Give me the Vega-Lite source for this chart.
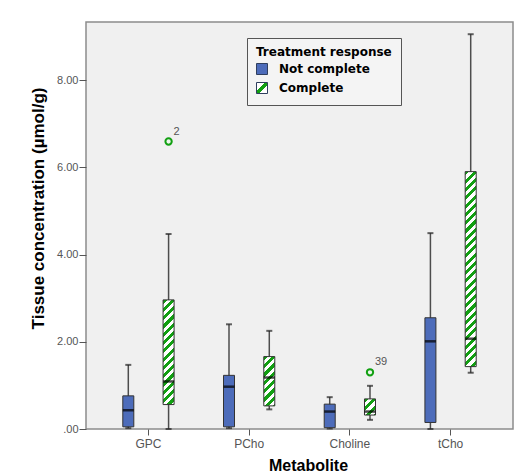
{
 "$schema": "https://vega.github.io/schema/vega-lite/v6.json",
 "autosize": {"type": "none"},
 "width": 427,
 "height": 407,
 "padding": {"left": 86, "top": 22, "right": 7, "bottom": 45},
 "background": "white",
 "config": {
  "view": {"fill": "#f0f0f0", "stroke": "#8c8c8c", "strokeWidth": 1.5},
  "font": "Liberation Sans",
  "axis": {"labelFont": "Liberation Sans", "titleFont": "Liberation Sans", "labelColor": "#555", "tickColor": "#555", "domain": false, "grid": false, "titleFontWeight": "bold", "titleColor": "#000"},
  "legend": {"titleFont": "DejaVu Sans", "labelFont": "DejaVu Sans", "titleFontSize": 12, "titleFontWeight": "bold", "titleColor": "#000", "labelFontSize": 12, "labelFontWeight": "bold", "labelColor": "#000", "symbolType": "square", "symbolSize": 121, "symbolStrokeColor": "#2f3f5f", "symbolStrokeWidth": 1, "fillColor": "#f4f4f4", "strokeColor": "#555", "padding": 9, "labelOffset": 11, "rowPadding": 3, "titlePadding": 4}
 },
 "datasets": {
  "boxes": [
   {"metabolite": "GPC", "response": "Not complete", "min": 0.02, "q1": 0.05, "median": 0.43, "q3": 0.76, "max": 1.47},
   {"metabolite": "GPC", "response": "Complete", "min": 0.0, "q1": 0.56, "median": 1.09, "q3": 2.96, "max": 4.47},
   {"metabolite": "PCho", "response": "Not complete", "min": 0.02, "q1": 0.05, "median": 0.97, "q3": 1.23, "max": 2.40},
   {"metabolite": "PCho", "response": "Complete", "min": 0.45, "q1": 0.53, "median": 1.18, "q3": 1.66, "max": 2.25},
   {"metabolite": "Choline", "response": "Not complete", "min": 0.01, "q1": 0.03, "median": 0.40, "q3": 0.57, "max": 0.73},
   {"metabolite": "Choline", "response": "Complete", "min": 0.21, "q1": 0.32, "median": 0.40, "q3": 0.69, "max": 0.99},
   {"metabolite": "tCho", "response": "Not complete", "min": 0.0, "q1": 0.15, "median": 2.01, "q3": 2.55, "max": 4.49},
   {"metabolite": "tCho", "response": "Complete", "min": 1.29, "q1": 1.43, "median": 2.07, "q3": 5.90, "max": 9.05}
  ],
  "outliers": [
   {"metabolite": "GPC", "response": "Complete", "value": 6.59, "label": "2"},
   {"metabolite": "Choline", "response": "Complete", "value": 1.30, "label": "39"}
  ]
 },
 "data": {"name": "boxes"},
 "encoding": {
  "x": {"field": "metabolite", "type": "nominal", "sort": ["GPC", "PCho", "Choline", "tCho"], "scale": {"paddingInner": 0.2, "paddingOuter": 0.22}, "axis": {"title": "Metabolite", "labelAngle": 0, "labelFontSize": 12, "tickSize": 6, "labelPadding": 3, "titleFontSize": 16, "titleX": 222, "titleY": 41, "titleBaseline": "alphabetic"}},
  "xOffset": {"field": "response", "type": "nominal", "scale": {"domain": ["Not complete", "Complete"], "paddingInner": 0, "paddingOuter": 0}}
 },
 "layer": [
  {
   "mark": {"type": "rule", "color": "#4d4d4d", "strokeWidth": 1.5},
   "encoding": {
    "y": {"field": "min", "type": "quantitative", "scale": {"domain": [0, 9.33], "nice": false}, "axis": {"title": "Tissue concentration (µmol/g)", "values": [0, 2, 4, 6, 8], "labelExpr": "datum.value === 0 ? '.00' : format(datum.value, '.2f')", "labelFontSize": 11, "tickSize": 7, "labelPadding": 1, "titleFontSize": 17, "titleX": -48, "titleY": 186, "titleBaseline": "middle", "titleAlign": "center", "titleAngle": -90}},
    "y2": {"field": "max"}
   }
  },
  {
   "mark": {"type": "tick", "color": "#222", "size": 6, "thickness": 2},
   "encoding": {"y": {"field": "max", "type": "quantitative"}}
  },
  {
   "mark": {"type": "tick", "color": "#222", "size": 6, "thickness": 2},
   "encoding": {"y": {"field": "min", "type": "quantitative"}}
  },
  {
   "mark": {"type": "bar", "width": 11, "stroke": "#333", "strokeWidth": 1},
   "encoding": {
    "y": {"field": "q1", "type": "quantitative"},
    "y2": {"field": "q3"},
    "fill": {
     "condition": [
      {"test": "datum.response === 'Complete' && datum.metabolite === 'GPC'", "value": {"gradient": "linear", "x1": 0, "y1": 0, "x2": 0.2059, "y2": 1.9602, "stops": [
       {"offset": 0, "color": "#12a012"}, {"offset": 0.02, "color": "#12a012"}, {"offset": 0.02, "color": "#ffffff"}, {"offset": 0.04, "color": "#ffffff"},
       {"offset": 0.04, "color": "#12a012"}, {"offset": 0.06, "color": "#12a012"}, {"offset": 0.06, "color": "#ffffff"}, {"offset": 0.08, "color": "#ffffff"},
       {"offset": 0.08, "color": "#12a012"}, {"offset": 0.1, "color": "#12a012"}, {"offset": 0.1, "color": "#ffffff"}, {"offset": 0.12, "color": "#ffffff"},
       {"offset": 0.12, "color": "#12a012"}, {"offset": 0.14, "color": "#12a012"}, {"offset": 0.14, "color": "#ffffff"}, {"offset": 0.16, "color": "#ffffff"},
       {"offset": 0.16, "color": "#12a012"}, {"offset": 0.18, "color": "#12a012"}, {"offset": 0.18, "color": "#ffffff"}, {"offset": 0.2, "color": "#ffffff"},
       {"offset": 0.2, "color": "#12a012"}, {"offset": 0.22, "color": "#12a012"}, {"offset": 0.22, "color": "#ffffff"}, {"offset": 0.24, "color": "#ffffff"},
       {"offset": 0.24, "color": "#12a012"}, {"offset": 0.26, "color": "#12a012"}, {"offset": 0.26, "color": "#ffffff"}, {"offset": 0.28, "color": "#ffffff"},
       {"offset": 0.28, "color": "#12a012"}, {"offset": 0.3, "color": "#12a012"}, {"offset": 0.3, "color": "#ffffff"}, {"offset": 0.32, "color": "#ffffff"},
       {"offset": 0.32, "color": "#12a012"}, {"offset": 0.34, "color": "#12a012"}, {"offset": 0.34, "color": "#ffffff"}, {"offset": 0.36, "color": "#ffffff"},
       {"offset": 0.36, "color": "#12a012"}, {"offset": 0.38, "color": "#12a012"}, {"offset": 0.38, "color": "#ffffff"}, {"offset": 0.4, "color": "#ffffff"},
       {"offset": 0.4, "color": "#12a012"}, {"offset": 0.42, "color": "#12a012"}, {"offset": 0.42, "color": "#ffffff"}, {"offset": 0.44, "color": "#ffffff"},
       {"offset": 0.44, "color": "#12a012"}, {"offset": 0.46, "color": "#12a012"}, {"offset": 0.46, "color": "#ffffff"}, {"offset": 0.48, "color": "#ffffff"},
       {"offset": 0.48, "color": "#12a012"}, {"offset": 0.5, "color": "#12a012"}, {"offset": 0.5, "color": "#ffffff"}, {"offset": 0.52, "color": "#ffffff"},
       {"offset": 0.52, "color": "#12a012"}, {"offset": 0.54, "color": "#12a012"}, {"offset": 0.54, "color": "#ffffff"}, {"offset": 0.56, "color": "#ffffff"},
       {"offset": 0.56, "color": "#12a012"}, {"offset": 0.58, "color": "#12a012"}, {"offset": 0.58, "color": "#ffffff"}, {"offset": 0.6, "color": "#ffffff"}
      ]}},
      {"test": "datum.response === 'Complete' && datum.metabolite === 'PCho'", "value": {"gradient": "linear", "x1": 0, "y1": 0, "x2": 0.8946, "y2": 4.0093, "stops": [
       {"offset": 0, "color": "#12a012"}, {"offset": 0.02, "color": "#12a012"}, {"offset": 0.02, "color": "#ffffff"}, {"offset": 0.04, "color": "#ffffff"},
       {"offset": 0.04, "color": "#12a012"}, {"offset": 0.06, "color": "#12a012"}, {"offset": 0.06, "color": "#ffffff"}, {"offset": 0.08, "color": "#ffffff"},
       {"offset": 0.08, "color": "#12a012"}, {"offset": 0.1, "color": "#12a012"}, {"offset": 0.1, "color": "#ffffff"}, {"offset": 0.12, "color": "#ffffff"},
       {"offset": 0.12, "color": "#12a012"}, {"offset": 0.14, "color": "#12a012"}, {"offset": 0.14, "color": "#ffffff"}, {"offset": 0.16, "color": "#ffffff"},
       {"offset": 0.16, "color": "#12a012"}, {"offset": 0.18, "color": "#12a012"}, {"offset": 0.18, "color": "#ffffff"}, {"offset": 0.2, "color": "#ffffff"},
       {"offset": 0.2, "color": "#12a012"}, {"offset": 0.22, "color": "#12a012"}, {"offset": 0.22, "color": "#ffffff"}, {"offset": 0.24, "color": "#ffffff"},
       {"offset": 0.24, "color": "#12a012"}, {"offset": 0.26, "color": "#12a012"}, {"offset": 0.26, "color": "#ffffff"}, {"offset": 0.28, "color": "#ffffff"},
       {"offset": 0.28, "color": "#12a012"}, {"offset": 0.3, "color": "#12a012"}, {"offset": 0.3, "color": "#ffffff"}, {"offset": 0.32, "color": "#ffffff"}
      ]}},
      {"test": "datum.response === 'Complete' && datum.metabolite === 'Choline'", "value": {"gradient": "linear", "x1": 0, "y1": 0, "x2": 6.0035, "y2": 8.7869, "stops": [
       {"offset": 0, "color": "#12a012"}, {"offset": 0.02, "color": "#12a012"}, {"offset": 0.02, "color": "#ffffff"}, {"offset": 0.04, "color": "#ffffff"},
       {"offset": 0.04, "color": "#12a012"}, {"offset": 0.06, "color": "#12a012"}, {"offset": 0.06, "color": "#ffffff"}, {"offset": 0.08, "color": "#ffffff"},
       {"offset": 0.08, "color": "#12a012"}, {"offset": 0.1, "color": "#12a012"}, {"offset": 0.1, "color": "#ffffff"}, {"offset": 0.12, "color": "#ffffff"},
       {"offset": 0.12, "color": "#12a012"}, {"offset": 0.14, "color": "#12a012"}, {"offset": 0.14, "color": "#ffffff"}, {"offset": 0.16, "color": "#ffffff"}
      ]}},
      {"test": "datum.response === 'Complete' && datum.metabolite === 'tCho'", "value": {"gradient": "linear", "x1": 0, "y1": 0, "x2": 0.0598, "y2": 1.0607, "stops": [
       {"offset": 0, "color": "#12a012"}, {"offset": 0.02, "color": "#12a012"}, {"offset": 0.02, "color": "#ffffff"}, {"offset": 0.04, "color": "#ffffff"},
       {"offset": 0.04, "color": "#12a012"}, {"offset": 0.06, "color": "#12a012"}, {"offset": 0.06, "color": "#ffffff"}, {"offset": 0.08, "color": "#ffffff"},
       {"offset": 0.08, "color": "#12a012"}, {"offset": 0.1, "color": "#12a012"}, {"offset": 0.1, "color": "#ffffff"}, {"offset": 0.12, "color": "#ffffff"},
       {"offset": 0.12, "color": "#12a012"}, {"offset": 0.14, "color": "#12a012"}, {"offset": 0.14, "color": "#ffffff"}, {"offset": 0.16, "color": "#ffffff"},
       {"offset": 0.16, "color": "#12a012"}, {"offset": 0.18, "color": "#12a012"}, {"offset": 0.18, "color": "#ffffff"}, {"offset": 0.2, "color": "#ffffff"},
       {"offset": 0.2, "color": "#12a012"}, {"offset": 0.22, "color": "#12a012"}, {"offset": 0.22, "color": "#ffffff"}, {"offset": 0.24, "color": "#ffffff"},
       {"offset": 0.24, "color": "#12a012"}, {"offset": 0.26, "color": "#12a012"}, {"offset": 0.26, "color": "#ffffff"}, {"offset": 0.28, "color": "#ffffff"},
       {"offset": 0.28, "color": "#12a012"}, {"offset": 0.3, "color": "#12a012"}, {"offset": 0.3, "color": "#ffffff"}, {"offset": 0.32, "color": "#ffffff"},
       {"offset": 0.32, "color": "#12a012"}, {"offset": 0.34, "color": "#12a012"}, {"offset": 0.34, "color": "#ffffff"}, {"offset": 0.36, "color": "#ffffff"},
       {"offset": 0.36, "color": "#12a012"}, {"offset": 0.38, "color": "#12a012"}, {"offset": 0.38, "color": "#ffffff"}, {"offset": 0.4, "color": "#ffffff"},
       {"offset": 0.4, "color": "#12a012"}, {"offset": 0.42, "color": "#12a012"}, {"offset": 0.42, "color": "#ffffff"}, {"offset": 0.44, "color": "#ffffff"},
       {"offset": 0.44, "color": "#12a012"}, {"offset": 0.46, "color": "#12a012"}, {"offset": 0.46, "color": "#ffffff"}, {"offset": 0.48, "color": "#ffffff"},
       {"offset": 0.48, "color": "#12a012"}, {"offset": 0.5, "color": "#12a012"}, {"offset": 0.5, "color": "#ffffff"}, {"offset": 0.52, "color": "#ffffff"},
       {"offset": 0.52, "color": "#12a012"}, {"offset": 0.54, "color": "#12a012"}, {"offset": 0.54, "color": "#ffffff"}, {"offset": 0.56, "color": "#ffffff"},
       {"offset": 0.56, "color": "#12a012"}, {"offset": 0.58, "color": "#12a012"}, {"offset": 0.58, "color": "#ffffff"}, {"offset": 0.6, "color": "#ffffff"},
       {"offset": 0.6, "color": "#12a012"}, {"offset": 0.62, "color": "#12a012"}, {"offset": 0.62, "color": "#ffffff"}, {"offset": 0.64, "color": "#ffffff"},
       {"offset": 0.64, "color": "#12a012"}, {"offset": 0.66, "color": "#12a012"}, {"offset": 0.66, "color": "#ffffff"}, {"offset": 0.68, "color": "#ffffff"},
       {"offset": 0.68, "color": "#12a012"}, {"offset": 0.7, "color": "#12a012"}, {"offset": 0.7, "color": "#ffffff"}, {"offset": 0.72, "color": "#ffffff"},
       {"offset": 0.72, "color": "#12a012"}, {"offset": 0.74, "color": "#12a012"}, {"offset": 0.74, "color": "#ffffff"}, {"offset": 0.76, "color": "#ffffff"},
       {"offset": 0.76, "color": "#12a012"}, {"offset": 0.78, "color": "#12a012"}, {"offset": 0.78, "color": "#ffffff"}, {"offset": 0.8, "color": "#ffffff"},
       {"offset": 0.8, "color": "#12a012"}, {"offset": 0.82, "color": "#12a012"}, {"offset": 0.82, "color": "#ffffff"}, {"offset": 0.84, "color": "#ffffff"},
       {"offset": 0.84, "color": "#12a012"}, {"offset": 0.86, "color": "#12a012"}, {"offset": 0.86, "color": "#ffffff"}, {"offset": 0.88, "color": "#ffffff"},
       {"offset": 0.88, "color": "#12a012"}, {"offset": 0.9, "color": "#12a012"}, {"offset": 0.9, "color": "#ffffff"}, {"offset": 0.92, "color": "#ffffff"},
       {"offset": 0.92, "color": "#12a012"}, {"offset": 0.94, "color": "#12a012"}, {"offset": 0.94, "color": "#ffffff"}, {"offset": 0.96, "color": "#ffffff"},
       {"offset": 0.96, "color": "#12a012"}, {"offset": 0.98, "color": "#12a012"}, {"offset": 0.98, "color": "#ffffff"}, {"offset": 1, "color": "#ffffff"}
      ]}}
     ],
     "field": "response",
     "type": "nominal",
     "scale": {"domain": ["Not complete", "Complete"], "range": ["#4d6cba", {"expr": "{gradient: 'linear', x1: 0, y1: 0, x2: 1, y2: 1, stops: [{offset: 0, color: '#ffffff'}, {offset: 0.38, color: '#ffffff'}, {offset: 0.38, color: '#12a012'}, {offset: 0.62, color: '#12a012'}, {offset: 0.62, color: '#ffffff'}, {offset: 1, color: '#ffffff'}]}"}]},
     "legend": {"title": "Treatment response", "orient": "none", "legendX": 161, "legendY": 16}
    }
   }
  },
  {
   "mark": {"type": "tick", "color": "#000", "size": 11, "thickness": 2.5},
   "encoding": {"y": {"field": "median", "type": "quantitative"}}
  },
  {
   "data": {"name": "outliers"},
   "mark": {"type": "point", "shape": "circle", "size": 40, "filled": true, "fill": "#eef5ee", "stroke": "#12a012", "strokeWidth": 2, "opacity": 1},
   "encoding": {"y": {"field": "value", "type": "quantitative"}}
  },
  {
   "data": {"name": "outliers"},
   "mark": {"type": "text", "align": "left", "baseline": "middle", "dx": 5, "dy": -10, "fontSize": 11, "color": "#555"},
   "encoding": {"y": {"field": "value", "type": "quantitative"}, "text": {"field": "label"}}
  }
 ]
}
